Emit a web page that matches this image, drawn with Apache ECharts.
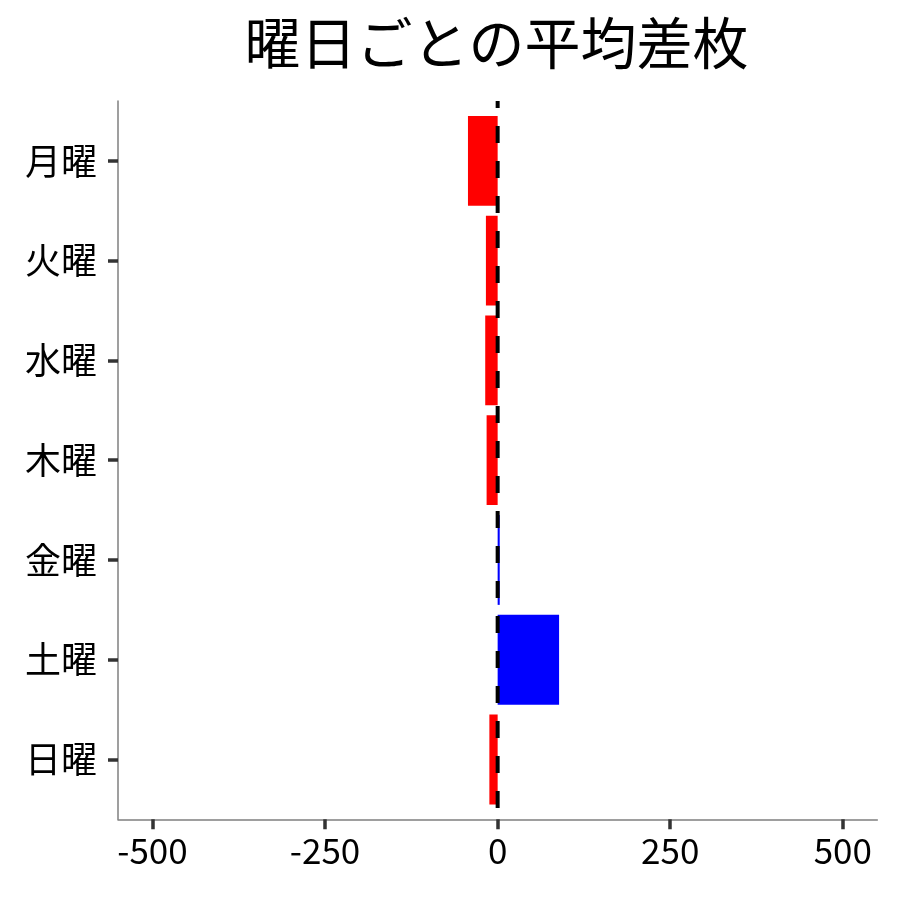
<!DOCTYPE html>
<html>
<head>
<meta charset="utf-8">
<script src="https://cdn.jsdelivr.net/npm/echarts@6/dist/echarts.min.js"></script>
<style>
html,body{margin:0;padding:0;background:#fff;}
#chart{width:900px;height:900px;}
</style>
</head>
<body>
<div id="chart"></div>
<script>
const titleText = '曜日ごとの平均差枚';
const categories = ['月曜','火曜','水曜','木曜','金曜','土曜','日曜'];
const values = [-43, -17, -18, -16, 3, 89, -12];
const xTicks = [-500, -250, 0, 250, 500];
const refValue = [0];

const FONT = 'Noto Sans CJK JP';
const chart = echarts.init(document.getElementById('chart'), null, {renderer: 'canvas'});

const option = {
  backgroundColor: '#ffffff',
  animation: false,
  title: {
    text: titleText,
    left: 491.5,
    top: 8,
    textAlign: 'center',
    textStyle: {fontFamily: FONT, fontSize: 56, fontWeight: 'normal', color: '#000', lineHeight: 60}
  },
  grid: [
    {left: 118, right: 22.7, top: 111, bottom: 90.6},
    {left: 118, right: 22.7, top: 101, bottom: 80.7}
  ],
  xAxis: [
    {type: 'value', gridIndex: 0, min: -550, max: 550, show: false},
    {
      type: 'value', gridIndex: 1, min: -550, max: 550, position: 'bottom',
      splitLine: {show: false},
      axisLine: {show: true, onZero: false, lineStyle: {color: '#7f7f7f', width: 1.5}},
      axisTick: {show: true, length: 10, customValues: xTicks, lineStyle: {color: '#333', width: 3.5}},
      axisLabel: {show: true, customValues: xTicks, fontFamily: FONT, fontSize: 35, color: '#000', margin: 14,
        formatter: v => String(v)}
    }
  ],
  yAxis: [
    {
      type: 'category', gridIndex: 0, data: categories, inverse: true, position: 'left',
      axisLine: {show: false, onZero: false},
      axisTick: {show: true, length: 10, alignWithLabel: true, lineStyle: {color: '#333', width: 3.5}},
      axisLabel: {fontFamily: FONT, fontSize: 36, color: '#000', margin: 21},
      splitLine: {show: false}
    },
    {
      type: 'value', gridIndex: 1, min: 0, max: 1, position: 'left',
      axisLine: {show: true, onZero: false, lineStyle: {color: '#7f7f7f', width: 1.5}},
      axisTick: {show: false}, axisLabel: {show: false}, splitLine: {show: false}
    }
  ],
  series: [
    {
      type: 'bar', xAxisIndex: 0, yAxisIndex: 0,
      data: values,
      barWidth: '90%',
      z: 2,
      itemStyle: {color: p => (p.value < 0 ? '#ff0000' : '#0000ff')}
    },
    {
      type: 'line', xAxisIndex: 1, yAxisIndex: 1,
      data: [[refValue[0], 1], [refValue[0], 0]],
      symbol: 'none', silent: true, z: 5,
      lineStyle: {color: '#000', width: 4, type: [17, 18], dashOffset: 10}
    }
  ]
};
chart.setOption(option);
</script>
</body>
</html>
